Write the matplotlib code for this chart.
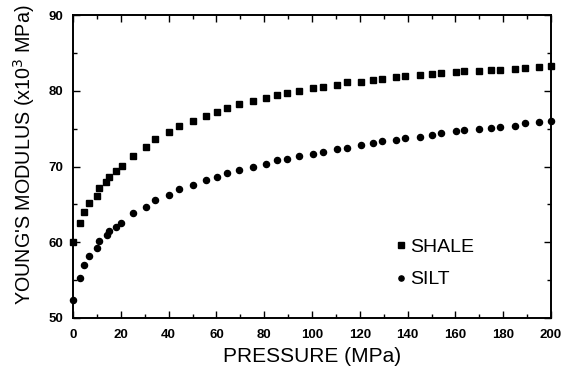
import matplotlib
matplotlib.use("Agg")
import matplotlib.pyplot as plt
from matplotlib.ticker import MultipleLocator

plt.rcParams['font.family'] = ['Liberation Sans', 'DejaVu Sans']

shale_p = [0, 2.9, 4.7, 6.8, 9.9, 10.7, 13.8, 14.9, 17.9, 20.4, 25.2, 30.4, 34.5, 40.3, 44.4,
           50.3, 55.5, 60.3, 64.4, 69.3, 75.4, 80.6, 85.5, 89.4, 94.7, 100.6, 104.7, 110.6,
           114.8, 120.4, 125.4, 129.3, 135.1, 139.1, 145.0, 150.1, 154.0, 160.1, 163.7, 170.0,
           174.8, 178.7, 185.1, 189.0, 195.1, 199.9]
shale_e = [60.0, 62.5, 64.0, 65.2, 66.1, 67.1, 68.0, 68.65, 69.4, 70.1, 71.4, 72.6, 73.6, 74.6,
           75.4, 76.05, 76.7, 77.2, 77.7, 78.25, 78.7, 79.0, 79.4, 79.7, 80.0, 80.3, 80.55, 80.8,
           81.1, 81.2, 81.4, 81.6, 81.85, 82.0, 82.1, 82.2, 82.4, 82.5, 82.6, 82.65, 82.7, 82.8,
           82.9, 83.0, 83.2, 83.3]

silt_p = [0, 2.9, 4.7, 6.8, 10.2, 11.0, 14.1, 14.9, 18.0, 20.1, 25.2, 30.4, 34.5, 40.3, 44.4,
          50.3, 55.5, 60.3, 64.6, 69.3, 75.4, 80.8, 85.5, 89.4, 94.7, 100.6, 104.7, 110.6,
          114.8, 120.4, 125.4, 129.3, 135.1, 139.1, 145.0, 150.1, 154.0, 160.1, 163.7, 170.0,
          174.8, 178.7, 185.1, 189.0, 195.1, 199.9]
silt_e = [52.4, 55.3, 57.0, 58.2, 59.3, 60.2, 61.0, 61.5, 62.05, 62.6, 63.8, 64.7, 65.6, 66.2,
          67.0, 67.55, 68.2, 68.65, 69.2, 69.5, 70.0, 70.3, 70.8, 71.0, 71.4, 71.65, 71.95, 72.3,
          72.5, 72.8, 73.05, 73.4, 73.5, 73.8, 73.85, 74.15, 74.4, 74.7, 74.8, 74.95, 75.05,
          75.25, 75.35, 75.7, 75.85, 76.0]

x_ticks = [0, 20, 40, 60, 80, 100, 120, 140, 160, 180, 200]
y_ticks = [50, 60, 70, 80, 90]

fig = plt.figure(figsize=(5.68, 3.8), dpi=100)
ax = fig.add_axes([73/568, 62/380, 478/568, 303/380])

ax.plot(shale_p, shale_e, linestyle='none', marker='s', markersize=4.6, color='black',
        clip_on=False, label='SHALE')
ax.plot(silt_p, silt_e, linestyle='none', marker='o', markersize=4.4, color='black',
        clip_on=False, label='SILT')

ax.set_xlim(0, 200)
ax.set_ylim(50, 90)
ax.set_xticks(x_ticks)
ax.set_yticks(y_ticks)
ax.xaxis.set_minor_locator(MultipleLocator(10))
ax.yaxis.set_minor_locator(MultipleLocator(5))
ax.tick_params(which='both', direction='in', top=True, right=True, width=1.0)
ax.tick_params(which='major', length=5, labelsize=9.5)
ax.tick_params(axis='x', which='major', pad=8)
ax.tick_params(axis='y', which='major', pad=7)
ax.tick_params(which='minor', length=3)
for lab in ax.get_xticklabels() + ax.get_yticklabels():
    lab.set_fontweight('bold')
for s in ax.spines.values():
    s.set_linewidth(1.4)

ax.set_xlabel('PRESSURE (MPa)', fontsize=15, labelpad=4)
ax.set_ylabel("YOUNG'S MODULUS (x10$^3$ MPa)", fontsize=14.2)
ax.yaxis.set_label_coords(-0.075, 0.54)

leg = ax.legend(loc='lower left', bbox_to_anchor=(0.66, 0.072), frameon=False,
                fontsize=14, handlelength=0.5, handletextpad=0.2, labelspacing=0.75,
                borderaxespad=0, markerscale=0.85)

fig.savefig('out.png', dpi=100)
